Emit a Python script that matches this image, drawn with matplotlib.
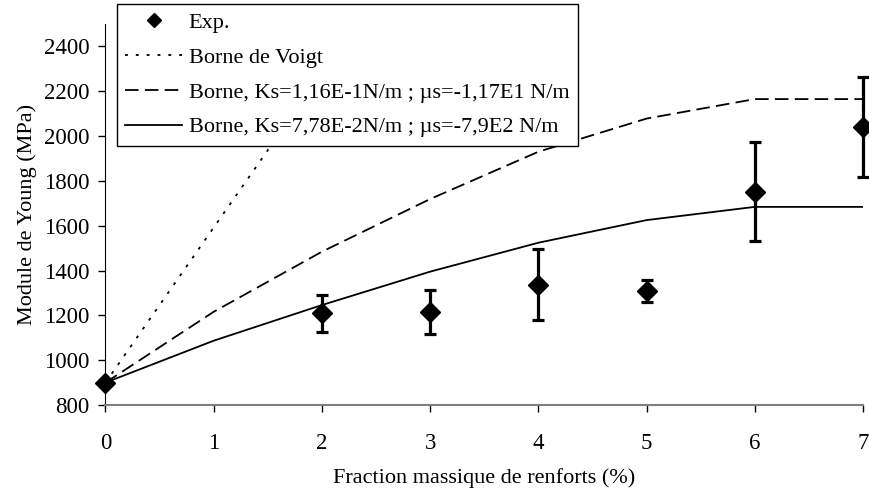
import matplotlib
matplotlib.use('Agg')
import matplotlib.pyplot as plt

# fraction massique (%)
x_exp = [0, 2, 3, 4, 5, 6, 7]
e_exp = [900, 1209, 1213, 1335, 1308, 1751, 2041]
e_low = [900, 1127, 1117, 1178, 1258, 1531, 1818]
e_high = [900, 1289, 1312, 1496, 1360, 1972, 2264]

x_voigt = [0, 1, 2, 3]
e_voigt = [900, 1592, 2282, 2972]

x_borne = [0, 1, 2, 3, 4, 5, 6, 7]
e_borne1 = [900, 1216, 1484, 1719, 1930, 2078, 2165, 2165]
e_borne2 = [900, 1087, 1246, 1395, 1524, 1625, 1684, 1684]

plt.rcParams['font.family'] = ['Liberation Serif', 'DejaVu Serif']

fig = plt.figure(figsize=(8.69, 4.95), dpi=100)
ax = fig.add_axes([0.1214, 0.1818, 0.8716, 0.7697])

err = [[v - l for v, l in zip(e_exp, e_low)], [h - v for v, h in zip(e_exp, e_high)]]
h_exp = ax.errorbar(x_exp, e_exp, yerr=err, fmt='D', color='k', ms=10,
                    elinewidth=2.3, capsize=4.3, capthick=2.3, clip_on=False, zorder=5)
h_v, = ax.plot(x_voigt, e_voigt, 'k', ls=(0, (1.6, 4.4)), lw=1.3)
h_b1, = ax.plot(x_borne, e_borne1, 'k', ls=(0, (7.5, 3.5)), lw=1.3)
h_b2, = ax.plot(x_borne, e_borne2, 'k-', lw=1.3)

ax.set_xlim(0, 7)
ax.set_ylim(800, 2500)
ax.set_xticks(range(0, 8))
ax.set_yticks(range(800, 2401, 200))
ax.spines['top'].set_visible(False)
ax.spines['right'].set_visible(False)
ax.spines['bottom'].set_color('#808080')
ax.spines['bottom'].set_linewidth(1.5)
ax.tick_params(axis='both', direction='out', length=5, width=1, labelsize=16.5, colors='k')
ax.tick_params(axis='x', pad=15)
ax.tick_params(axis='y', pad=6.5)
ax.set_xlabel('Fraction massique de renforts (%)', fontsize=16, labelpad=10)
ax.set_ylabel('Module de Young (MPa)', fontsize=16, labelpad=5)

leg = ax.legend([h_exp[0], h_v, h_b1, h_b2],
                ['Exp.', 'Borne de Voigt',
                 'Borne, Ks=1,16E-1N/m ; \u00b5s=-1,17E1 N/m',
                 'Borne, Ks=7,78E-2N/m ; \u00b5s=-7,9E2 N/m'],
                loc='upper left', bbox_to_anchor=(117 / 869, 1 - 4 / 495),
                bbox_transform=fig.transFigure, borderaxespad=0,
                fontsize=16, handlelength=2.55, labelspacing=0.64,
                fancybox=False, framealpha=1, edgecolor='k', borderpad=0.38,
                handletextpad=0.3, markerscale=0.75)
leg.get_frame().set_linewidth(1.0)

fig.savefig('out.png', dpi=100)
